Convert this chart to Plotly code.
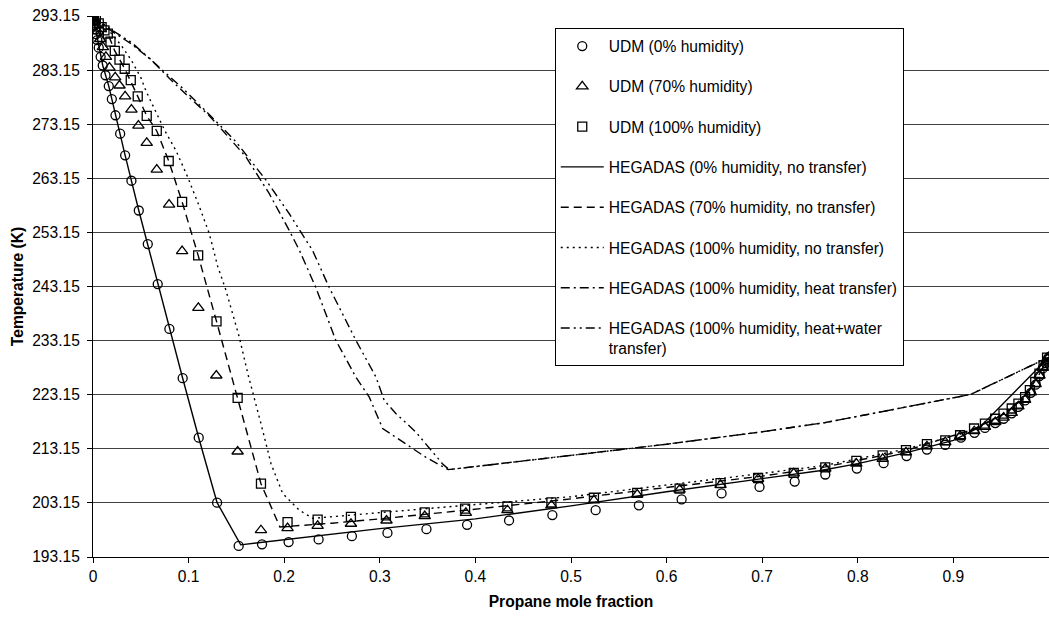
import plotly.graph_objects as go

# ---------------- data ----------------
udm0_x = [0.0003,0.0008,0.0015,0.0023,0.0033,0.0045,0.006,0.008,0.0102,0.0131,0.0165,0.0197,0.0235,0.0284,0.0336,
          0.0402,0.0479,0.0573,0.0677,0.0799,0.0938,0.1106,0.1298,0.1524,0.1768,0.2046,0.236,0.2708,0.308,0.3488,
          0.3913,0.4352,0.4805,0.5258,0.571,0.6157,0.6575,0.6972,0.734,0.766,0.799,0.827,0.851,0.8723,0.8915,
          0.9079,0.922,0.933,0.9438,0.9525,0.961,0.968,0.975,0.981,0.986,0.99,0.9935,0.9965,0.9985,1.0]
udm0_T = [292.8,292.2,291.5,290.7,289.8,288.7,287.3,285.6,284.0,282.2,280.2,277.8,274.8,271.4,267.4,
          262.7,257.2,251.0,243.6,235.3,226.2,215.2,203.2,195.2,195.5,195.9,196.4,197.0,197.6,198.3,
          199.1,199.9,200.9,201.8,202.7,203.8,204.9,206.1,207.1,208.4,209.5,210.5,211.8,213.0,213.9,
          215.2,216.1,217.0,217.9,218.7,219.7,220.9,222.1,223.5,225.0,226.6,228.0,229.0,229.7,230.15]

udm70_x = [0.0005,0.0015,0.003,0.005,0.0075,0.0103,0.0135,0.0172,0.0232,0.0277,0.0336,0.0402,0.0475,0.0562,0.0667,
           0.0796,0.0932,0.1102,0.129,0.1513,0.1757,0.2035,0.235,0.2698,0.307,0.347,0.39,0.4335,0.4795,0.524,
           0.5693,0.6136,0.6564,0.6957,0.733,0.766,0.7985,0.826,0.8504,0.8723,0.8915,0.907,0.9218,0.933,0.9438,
           0.9525,0.961,0.968,0.975,0.981,0.986,0.99,0.9935,0.9965,0.9985,1.0]
udm70_T = [292.9,292.3,291.4,290.3,288.9,287.4,285.6,283.6,281.8,280.3,278.3,275.85,272.9,269.7,264.75,
           258.3,249.7,239.2,226.7,212.65,198.1,198.5,198.9,199.3,199.9,200.7,201.3,201.8,202.7,203.6,
           204.7,205.6,206.5,207.6,208.6,209.5,210.4,211.3,212.5,213.6,214.4,215.5,216.4,217.2,218.1,
           218.9,219.8,221.0,222.2,223.6,225.1,226.7,228.1,229.1,229.8,230.15]

udm100_x = [0.001,0.003,0.006,0.009,0.012,0.0155,0.0183,0.0228,0.0277,0.0332,0.0395,0.0468,0.0562,0.0667,0.0792,
            0.0932,0.11,0.1292,0.1513,0.1757,0.2035,0.235,0.2698,0.3064,0.347,0.3892,0.4335,0.4795,0.524,0.5693,
            0.6136,0.6564,0.6957,0.733,0.766,0.7985,0.826,0.8504,0.8723,0.8915,0.907,0.9216,0.933,0.9437,0.9524,
            0.961,0.968,0.975,0.98,0.9856,0.99,0.9943,0.998]
udm100_T = [292.9,292.5,291.8,291.1,290.5,289.9,288.4,286.7,285.1,283.4,281.3,278.3,274.7,271.9,266.35,
            258.8,248.9,236.7,222.55,206.7,199.6,200.06,200.55,200.85,201.4,202.1,202.5,203.25,204.1,205.0,
            205.8,206.8,207.75,208.7,209.7,210.9,211.95,212.9,214.0,214.7,215.65,216.9,217.8,218.7,219.65,
            220.6,221.5,222.7,224.0,225.5,227.05,228.6,230.0]

heg0_x = [0,0.0102,0.0165,0.0235,0.0336,0.0479,0.0677,0.0938,0.1106,0.1298,0.1545,0.216,0.3,0.4,0.5,0.6,0.7,
          0.76,0.8,0.85,0.9,0.928,1.0]
heg0_T = [293.15,284.0,280.2,274.8,267.4,257.2,243.6,226.2,215.2,203.2,195.4,196.7,198.4,200.2,202.6,205.2,207.6,
          209.1,210.4,212.4,214.7,217.2,230.1]

heg70_x = [0,0.0155,0.0228,0.0332,0.0468,0.0562,0.0667,0.0792,0.0932,0.11,0.1292,0.1513,0.1757,0.1955,0.25,0.3,
           0.39,0.5,0.6,0.7,0.766,0.85,0.923,0.95,0.975,0.99,1.0]
heg70_T = [293.15,289.9,286.7,283.4,278.3,274.7,271.9,266.35,258.8,248.9,236.7,222.55,206.7,198.7,199.4,200.2,
           201.8,203.9,206.0,208.1,209.8,212.8,216.9,219.3,222.6,227.0,230.1]

heg100_x = [0,0.01,0.02,0.03,0.04,0.05,0.0556,0.0643,0.075,0.087,0.099,0.1113,0.1217,0.1304,0.139,0.153,0.162,
            0.1757,0.1862,0.1984,0.2158,0.23,0.3,0.39,0.5,0.6,0.7,0.766,0.85,0.916,0.95,0.975,0.99,1.0]
heg100_T = [293.15,291.6,289.8,287.6,285.0,281.8,279.2,275.9,272.0,268.2,263.4,257.9,252.9,246.9,242.5,233.8,
            227.0,217.8,210.4,204.9,201.8,200.3,201.3,202.7,204.3,206.4,208.6,210.1,213.1,216.3,219.4,222.8,
            227.0,230.1]

heat_x = [0,0.02,0.04,0.06,0.08,0.1,0.12,0.1356,0.16,0.1844,0.2053,0.216,0.233,0.254,0.275,0.289,0.303,0.317,
          0.348,0.3715,0.425,0.5,0.6,0.7,0.766,0.822,0.87,0.918,1.0]
heat_T = [293.15,290.3,288.0,285.2,281.6,278.2,275.0,272.0,267.1,260.3,253.5,249.8,243.0,233.2,226.4,222.7,
          216.9,215.3,211.6,209.3,210.4,211.9,214.0,216.3,218.0,219.9,221.6,223.2,230.1]

water_x = [0,0.02,0.04,0.066,0.0938,0.1252,0.1496,0.181,0.2053,0.2297,0.247,0.275,0.296,0.3046,0.317,0.3377,
           0.3655,0.3725,0.425,0.5,0.6,0.7,0.766,0.822,0.87,0.918,1.0]
water_T = [293.15,290.5,288.3,284.2,279.8,274.3,269.9,262.8,256.6,249.8,243.0,233.2,226.4,222.1,219.65,216.25,
           210.4,209.3,210.4,211.9,214.0,216.3,218.0,219.9,221.6,223.2,230.1]

x_ticks = [0, 0.1, 0.2, 0.3, 0.4, 0.5, 0.6, 0.7, 0.8, 0.9, 1]
x_tick_text = ["0", "0.1", "0.2", "0.3", "0.4", "0.5", "0.6", "0.7", "0.8", "0.9", "1"]
y_ticks = [193.15, 203.15, 213.15, 223.15, 233.15, 243.15, 253.15, 263.15, 273.15, 283.15, 293.15]
y_tick_text = ["%.2f" % v for v in y_ticks]

names = ["UDM (0% humidity)", "UDM (70% humidity)", "UDM (100% humidity)",
         "HEGADAS (0% humidity, no transfer)", "HEGADAS (70% humidity, no transfer)",
         "HEGADAS (100% humidity, no transfer)", "HEGADAS (100% humidity, heat transfer)",
         "HEGADAS (100% humidity, heat+water<br>transfer)"]

FONT = "Arial, Liberation Sans, sans-serif"
FS = 15.6

fig = go.Figure()

marker_series = [(udm0_x, udm0_T, "circle-open", 9),
                 (udm70_x, udm70_T, "triangle-up-open", 10),
                 (udm100_x, udm100_T, "square-open", 9)]
for i, (xs, ys, sym, sz) in enumerate(marker_series):
    fig.add_trace(go.Scatter(x=xs, y=ys, mode="markers", name=names[i], legendgroup="g%d" % i,
                             marker=dict(symbol=sym, size=sz, color="black", line=dict(color="black", width=1.3))))

line_series = [(heg0_x, heg0_T, "solid"),
               (heg70_x, heg70_T, "8px,5px"),
               (heg100_x, heg100_T, "2px,4px"),
               (heat_x, heat_T, "9px,4px,2px,4px"),
               (water_x, water_T, "9px,4px,2px,4px,2px,4px")]
for j, (xs, ys, dash) in enumerate(line_series):
    k = j + 3
    fig.add_trace(go.Scatter(x=xs, y=ys, mode="lines", name=names[k], legendgroup="g%d" % k,
                             line=dict(color="black", width=1.4, dash=dash)))

fig.update_layout(
    width=1049, height=617,
    margin=dict(l=93, r=0, t=16, b=60),
    paper_bgcolor="white", plot_bgcolor="white",
    font=dict(family=FONT, size=FS, color="black"),
    showlegend=True,
    legend=dict(x=0.483, y=0.977, xanchor="left", yanchor="top",
                bgcolor="white", bordercolor="black", borderwidth=1,
                font=dict(family=FONT, size=FS, color="black"),
                tracegroupgap=17, traceorder="grouped", valign="top", itemwidth=43),
    xaxis=dict(range=[0, 1], tickmode="array", tickvals=x_ticks, ticktext=x_tick_text,
               ticks="outside", ticklen=5, tickcolor="black", showline=True, linecolor="black",
               linewidth=1, showgrid=False, zeroline=False, automargin=False,
               tickfont=dict(family=FONT, size=FS),
               title=dict(text="<b>Propane mole fraction</b>", font=dict(family=FONT, size=FS), standoff=12)),
    yaxis=dict(range=[193.15, 293.15], tickmode="array", tickvals=y_ticks, ticktext=y_tick_text,
               ticks="outside", ticklen=5, tickcolor="black", showline=True, linecolor="black",
               linewidth=1, showgrid=True, gridcolor="#404040", gridwidth=1, zeroline=False,
               automargin=False, tickfont=dict(family=FONT, size=FS), ticklabelstandoff=4,
               title=dict(text="<b>Temperature (K)</b>", font=dict(family=FONT, size=FS), standoff=4)),
)

fig.write_html("out.html")
